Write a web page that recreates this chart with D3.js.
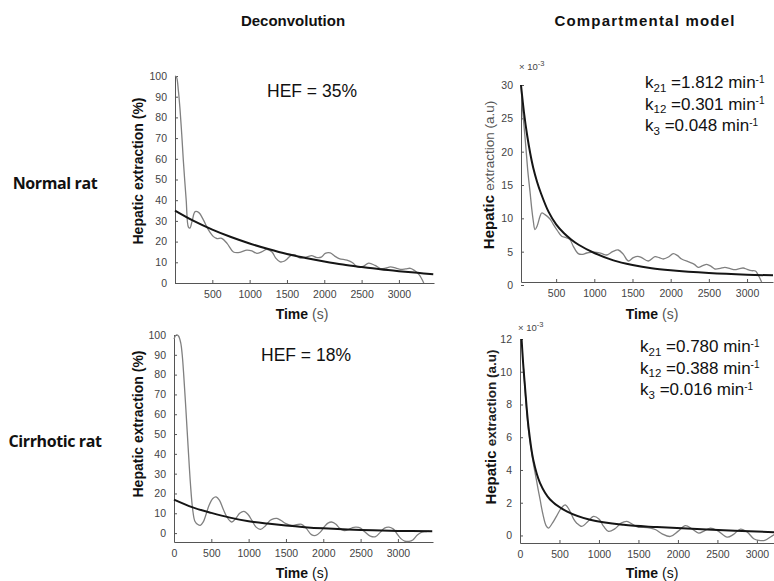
<!DOCTYPE html>
<html>
<head>
<meta charset="utf-8">
<script src="https://cdn.jsdelivr.net/npm/d3@7"></script>
<style>
  body { margin: 0; background: #fff; }
  svg { display: block; }
</style>
</head>
<body>
<script>
// ---- data ----

// normal rat, deconvolution (%)
var tlTime = [0, 20, 45, 67, 90, 112, 150, 180, 200, 230, 270, 320, 380, 450, 515, 560, 626, 700, 783, 870, 962, 1030, 1096, 1160, 1231, 1300, 1350, 1409, 1460, 1499, 1560, 1611, 1680, 1767, 1830, 1900, 1960, 2013, 2080, 2140, 2200, 2304, 2380, 2439, 2520, 2595, 2680, 2752, 2820, 2886, 2960, 3020, 3090, 3154, 3210, 3270, 3333];
var tlSignal = [100, 99.5, 93, 84, 72, 59, 40, 27, 26.5, 30, 34.5, 34, 30.5, 25.5, 22.4, 21.5, 21.6, 19, 15, 14.8, 15.9, 15.5, 14.3, 15, 16.3, 15, 12, 10.2, 10.5, 11.5, 13.5, 13.5, 12, 12.6, 13.2, 12.3, 12.5, 14.3, 14.5, 13, 11.8, 11, 9.8, 7.9, 8, 9.6, 8.5, 7, 7.2, 7.8, 7.2, 6.6, 6.8, 7.1, 6, 4, 0];
var tlFitTime = [0, 250, 500, 750, 1000, 1250, 1500, 1750, 2000, 2250, 2500, 2750, 3000, 3250, 3460];
var tlFit = [35, 30.0, 25.8, 22.2, 19.1, 16.4, 14.0, 12.1, 10.4, 8.9, 7.7, 6.6, 5.7, 4.9, 4.2];

// normal rat, compartmental model (x 10^-3 a.u)
var trTime = [40, 60, 90, 105, 130, 158, 180, 201, 223, 250, 289, 311, 350, 420, 463, 520, 573, 630, 681, 725, 790, 850, 900, 960, 1031, 1100, 1162, 1240, 1314, 1380, 1445, 1511, 1570, 1620, 1707, 1794, 1850, 1903, 1970, 2034, 2090, 2143, 2252, 2310, 2361, 2420, 2471, 2530, 2580, 2650, 2710, 2780, 2841, 2900, 2950, 3000, 3060, 3110, 3146, 3191];
var trSignal = [30, 26.5, 22.5, 20.5, 17, 14, 11.5, 9.6, 8.3, 8.8, 10.3, 10.8, 10.6, 9.9, 9.1, 8.1, 7.3, 7.1, 6.8, 5.8, 4.7, 4.6, 4.8, 4.9, 4.9, 4.7, 4.5, 5.0, 5.25, 4.6, 3.6, 4.1, 4.3, 4.1, 3.6, 4.25, 4.1, 3.9, 4.2, 4.7, 4.4, 3.9, 3.4, 3.1, 2.65, 2.9, 3.1, 2.8, 2.4, 2.5, 2.65, 2.45, 2.3, 2.45, 2.55, 2.35, 2.15, 2.1, 1.5, 0.45];
var trFitTime = [40, 80, 120, 160, 200, 250, 300, 400, 500, 600, 700, 800, 1000, 1250, 1500, 1750, 2000, 2500, 3000, 3340];
var trFit = [30, 25.8, 22.5, 19.8, 17.6, 15.5, 13.8, 11.0, 9.1, 7.8, 6.8, 6.0, 4.8, 3.7, 3.0, 2.5, 2.2, 1.8, 1.55, 1.45];

// cirrhotic rat, deconvolution (%)
var blTime = [0, 30, 60, 90, 110, 130, 160, 190, 220, 250, 280, 320, 352, 390, 430, 470, 520, 564, 610, 660, 720, 775, 830, 880, 938, 990, 1050, 1100, 1158, 1220, 1290, 1340, 1379, 1430, 1500, 1577, 1640, 1709, 1770, 1841, 1900, 1960, 2020, 2062, 2110, 2170, 2216, 2280, 2340, 2392, 2440, 2500, 2560, 2630, 2700, 2766, 2820, 2880, 2940, 2990, 3040, 3090, 3150, 3200, 3260, 3320, 3380, 3420];
var blSignal = [98, 100, 99.5, 96, 90, 80, 62, 43, 25, 12, 6, 4.3, 3.9, 5.5, 9.5, 14, 17.5, 18.3, 16.5, 12, 7.5, 5.6, 7.5, 10, 11, 9.5, 6, 3, 1.9, 3.5, 6.5, 7.3, 7.4, 6.5, 4.8, 3.9, 4.2, 4.4, 2.5, -0.8, -1.2, 0.5, 3.5, 5, 5.6, 4.5, 2.5, 1.3, 1.8, 2.8, 3, 2.5, 0.5, -1.5, -1.8, 0.5, 2.5, 3, 2, -0.5, -2.8, -4, -4.2, -3.5, -1, 0.5, 0.8, 1];
var blFitTime = [0, 250, 500, 750, 1000, 1250, 1500, 1750, 2000, 2500, 3000, 3460];
var blFit = [16.9, 13.0, 10.2, 7.8, 6.0, 4.8, 3.8, 3.0, 2.4, 1.6, 1.1, 0.9];

// cirrhotic rat, compartmental model (x 10^-3 a.u)
var brTime = [45, 70, 106, 140, 169, 200, 230, 254, 290, 330, 360, 410, 465, 520, 571, 620, 680, 719, 783, 850, 931, 1000, 1060, 1121, 1200, 1280, 1354, 1420, 1500, 1565, 1650, 1720, 1800, 1904, 2000, 2094, 2180, 2263, 2340, 2411, 2500, 2623, 2700, 2792, 2880, 2960, 3025, 3100, 3215, 3300];
var brSignal = [10.2, 8.5, 6.5, 5.3, 4.4, 3.6, 2.8, 2.2, 1.3, 0.6, 0.45, 0.75, 1.2, 1.65, 1.87, 1.6, 1.0, 0.75, 0.55, 0.8, 1.16, 1.0, 0.55, 0.25, 0.4, 0.75, 0.86, 0.7, 0.5, 0.5, 0.45, 0.35, 0.1, -0.06, 0.25, 0.6, 0.4, 0.14, 0.3, 0.45, 0.3, -0.1, 0.05, 0.39, 0.2, -0.2, -0.3, -0.3, 0.04, 0.2];
var brFitTime = [20, 40, 63, 106, 169, 254, 381, 592, 888, 1311, 1734, 2369, 3215, 3470];
var brFit = [12, 10.5, 9.1, 6.7, 4.6, 3.2, 2.2, 1.47, 0.96, 0.65, 0.51, 0.36, 0.2, 0.17];

var columnTitles = ['Deconvolution', 'Compartmental model'];
var rowTitles = ['Normal rat', 'Cirrhotic rat'];
var hefLabels = ['HEF = 35%', 'HEF = 18%'];
var rateNames = ['21', '12', '3'];
var normalRates = ['1.812', '0.301', '0.048'];
var cirrhoticRates = ['0.780', '0.388', '0.016'];
var pctTicks = [0, 10, 20, 30, 40, 50, 60, 70, 80, 90, 100];
var timeTicksNoZero = [500, 1000, 1500, 2000, 2500, 3000];
var timeTicks = [0, 500, 1000, 1500, 2000, 2500, 3000];
var auTicksNormal = [0, 5, 10, 15, 20, 25, 30];
var auTicksCirrhotic = [0, 2, 4, 6, 8, 10, 12];

// ---- drawing ----
var W = 774, H = 581;
var FONT = '"Liberation Sans", Arial, sans-serif';

var svg = d3.select('body').append('svg')
  .attr('width', W).attr('height', H)
  .style('font-family', FONT);

var panels = [
  { t: tlTime, s: tlSignal, ft: tlFitTime, f: tlFit, xd: [0, 3470], xr: [175, 434], yd: [0, 100], yr: [283, 76], xt: timeTicksNoZero, yt: pctTicks, kind: 'pct' },
  { t: trTime, s: trSignal, ft: trFitTime, f: trFit, xd: [40, 3340], xr: [521, 773], yd: [0.45, 30], yr: [282, 85], xt: timeTicksNoZero, yt: auTicksNormal, kind: 'au', expY: 70 },
  { t: blTime, s: blSignal, ft: blFitTime, f: blFit, xd: [0, 3470], xr: [174, 433], yd: [-4.5, 100], yr: [542, 335], xt: timeTicks, yt: pctTicks, kind: 'pct' },
  { t: brTime, s: brSignal, ft: brFitTime, f: brFit, xd: [0, 3470], xr: [520, 794], yd: [-0.46, 12], yr: [543, 339], xt: timeTicks, yt: auTicksCirrhotic, kind: 'au', expY: 331 }
];

panels.forEach(function(p, i) {
  var x = d3.scaleLinear().domain(p.xd).range(p.xr);
  var y = d3.scaleLinear().domain(p.yd).range(p.yr);
  var g = svg.append('g');

  // axes
  var ax = g.append('g').attr('transform', 'translate(0,' + p.yr[0] + ')')
    .call(d3.axisBottom(x).tickValues(p.xt).tickFormat(d3.format('d'))
      .tickSizeInner(-3).tickSizeOuter(0).tickPadding(8));
  var ay = g.append('g').attr('transform', 'translate(' + p.xr[0] + ',0)')
    .call(d3.axisLeft(y).tickValues(p.yt).tickFormat(d3.format('d'))
      .tickSizeInner(-3).tickSizeOuter(0).tickPadding(8));
  [ax, ay].forEach(function(a) {
    a.select('.domain').attr('stroke', '#555');
    a.selectAll('.tick line').attr('stroke', '#555');
    a.selectAll('.tick text').attr('fill', '#444').style('font-size', '10.5px').style('font-family', FONT);
  });

  // curves
  var line = d3.line().curve(d3.curveCatmullRom.alpha(0.5));
  g.append('path')
    .attr('d', line(p.t.map(function(d, k) { return [x(d), y(p.s[k])]; })))
    .attr('fill', 'none').attr('stroke', '#808080').attr('stroke-width', 1.3);
  g.append('path')
    .attr('d', line(p.ft.map(function(d, k) { return [x(d), y(p.f[k])]; })))
    .attr('fill', 'none').attr('stroke', '#151515').attr('stroke-width', 2);

  // x axis title
  var cx = (i % 2 === 0) ? 302 : 652;
  var by = (i < 2) ? 319 : 578;
  var xt = g.append('text').attr('x', cx).attr('y', by).attr('text-anchor', 'middle')
    .style('font-size', '14px').attr('fill', '#111');
  xt.append('tspan').style('font-weight', 'bold').text('Time');
  xt.append('tspan').attr('fill', i < 2 ? '#555' : '#111').text(' (s)');

  // y axis title
  if (p.kind === 'pct') {
    var cy = (i === 0) ? 171 : 424;
    g.append('text')
      .attr('transform', 'translate(143,' + cy + ') rotate(-90)')
      .attr('text-anchor', 'middle').style('font-size', '14px').style('font-weight', 'bold')
      .attr('fill', '#111').text('Hepatic extraction (%)');
  } else {
    var cy2 = (i === 1) ? 175 : 427;
    var yt = g.append('text')
      .attr('transform', 'translate(' + (i === 1 ? 494 : 496) + ',' + cy2 + ') rotate(-90)')
      .attr('text-anchor', 'middle').attr('fill', '#111');
    yt.append('tspan').style('font-weight', 'bold').style('font-size', '15px').text('Hepatic ');
    yt.append('tspan')
      .style('font-size', '13.5px')
      .style('font-weight', i === 1 ? 'normal' : 'bold')
      .attr('fill', i === 1 ? '#555' : '#222')
      .text('extraction (a.u)');

    // exponent marker
    var ex = g.append('text').attr('x', p.xr[0] - 2).attr('y', p.expY)
      .style('font-size', '9.5px').attr('fill', '#444');
    ex.append('tspan').text('\u00d7 10');
    ex.append('tspan').attr('dy', -4).style('font-size', '7.5px').text('-3');
  }
});

// column titles
svg.selectAll('.coltitle').data(columnTitles).enter().append('text')
  .attr('class', 'coltitle')
  .attr('x', function(d, i) { return i === 0 ? 293 : 645; })
  .attr('y', 26)
  .attr('text-anchor', 'middle')
  .style('font-size', '15px').style('font-weight', 'bold')
  .style('letter-spacing', function(d, i) { return i === 0 ? '0px' : '1.2px'; })
  .attr('fill', '#111')
  .text(function(d) { return d; });

// row titles
svg.selectAll('.rowtitle').data(rowTitles).enter().append('text')
  .attr('class', 'rowtitle')
  .attr('x', 55)
  .attr('y', function(d, i) { return i === 0 ? 189 : 447; })
  .attr('text-anchor', 'middle')
  .style('font-family', '"Open Sans", sans-serif')
  .style('font-size', '16px').style('font-weight', 'bold')
  .style('letter-spacing', '-0.4px')
  .attr('fill', '#111')
  .text(function(d) { return d; });

// HEF labels
svg.selectAll('.hef').data(hefLabels).enter().append('text')
  .attr('class', 'hef')
  .attr('x', function(d, i) { return i === 0 ? 312 : 306; })
  .attr('y', function(d, i) { return i === 0 ? 97 : 361; })
  .attr('text-anchor', 'middle')
  .style('font-size', '17.5px')
  .attr('fill', '#111')
  .text(function(d) { return d; });

// rate constants
function rateBlock(x0, y0, values) {
  values.forEach(function(v, k) {
    var t = svg.append('text').attr('x', x0).attr('y', y0 + k * 21.5)
      .style('font-size', '17px').attr('fill', '#111');
    t.append('tspan').text('k');
    t.append('tspan').attr('dy', 3.5).style('font-size', '11.5px').text(rateNames[k]);
    t.append('tspan').attr('dy', -3.5).text(' =' + v + ' min');
    t.append('tspan').attr('dy', -5.5).style('font-size', '10px').text('-1');
  });
}
rateBlock(645, 88, normalRates);
rateBlock(640, 352, cirrhoticRates);
</script>
</body>
</html>
